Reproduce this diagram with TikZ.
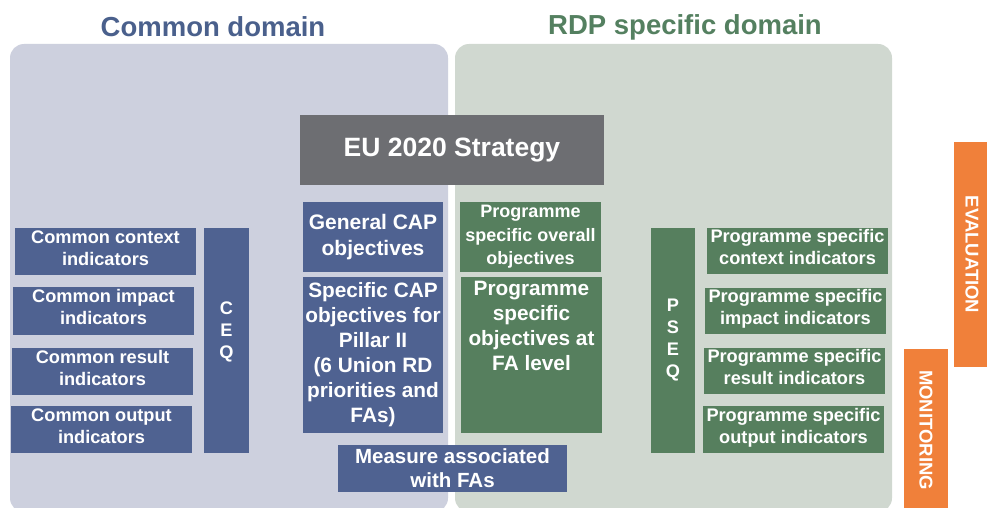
\documentclass[tikz,border=0pt]{standalone}
\usepackage{fontspec}
\setmainfont{Liberation Sans}
\usetikzlibrary{positioning}
\definecolor{cmnblue}{RGB}{79,98,145}
\definecolor{rdpgreen}{RGB}{86,127,94}
\definecolor{cmnpanel}{RGB}{205,208,222}
\definecolor{rdppanel}{RGB}{208,216,208}
\definecolor{eugray}{RGB}{109,110,114}
\definecolor{mevorange}{RGB}{240,128,58}
\definecolor{cmntitle}{RGB}{74,96,140}
\definecolor{rdptitle}{RGB}{84,128,96}
\tikzset{
  wtext/.style={inner sep=0pt, align=center, text=white,
    font=\bfseries\fontsize{18.2}{22}\selectfont},
  bluebox/.style={wtext, fill=cmnblue},
  greenbox/.style={wtext, fill=rdpgreen},
  indbox/.style={minimum width=181, minimum height=47, text depth=7.5pt},
  orangebox/.style={wtext, fill=mevorange, rotate=-90,
    font=\bfseries\fontsize{18.5}{22}\selectfont},
  bigtext/.style={font=\bfseries\fontsize{20.8}{25}\selectfont}
}
\begin{document}
\begin{tikzpicture}[x=1pt, y=-1pt]
  \useasboundingbox[fill=white] (0,0) rectangle (987,508);
  % the two domains
  \fill[cmnpanel, rounded corners=14] (10,44) rectangle (448,512);
  \fill[rdppanel, rounded corners=14] (455,44) rectangle (892,512);
  \node[text=cmntitle, font=\bfseries\fontsize{27.5}{32}\selectfont] (cmntitle) at (213,27) {Common domain};
  \node[text=rdptitle, font=\bfseries\fontsize{27.5}{32}\selectfont] (rdptitle) at (685,27) {RDP specific domain};
  % strategy on top
  \node[wtext, fill=eugray, minimum width=304, minimum height=70,
    font=\bfseries\fontsize{26.5}{30}\selectfont] (eu) at (452,150) {EU 2020 Strategy};
  % common indicators and CEQ
  \node[bluebox, indbox] (cctx) at (105.5,251.5) {Common context\\indicators};
  \node[bluebox, indbox, minimum height=48] (cimp) at (103.5,311) {Common impact\\indicators};
  \node[bluebox, indbox] (cres) at (102.5,371.5) {Common result\\indicators};
  \node[bluebox, indbox] (cout) at (101.5,429.5) {Common output\\indicators};
  \node[bluebox, minimum width=45, minimum height=225] (ceq) at (226.5,340.5) {};
  \node[wtext] (ceqtxt) at (226.5,332) {C\\E\\Q};
  % objectives
  \node[bluebox, minimum width=140, minimum height=70, font=\bfseries\fontsize{21}{26}\selectfont] (gencap) at (373,237) {General CAP\\objectives};
  \node[bluebox, bigtext, minimum width=140, minimum height=156] (speccap) at (373,355) {Specific CAP\\objectives for\\Pillar II\\(6 Union RD\\priorities and\\FAs)};
  \node[greenbox, minimum width=141, minimum height=70, font=\bfseries\fontsize{18}{23.5}\selectfont] (povr) at (530.5,237) {Programme\\specific overall\\objectives};
  \node[greenbox, minimum width=141, minimum height=156] (pfa) at (531.5,355) {};
  \node[wtext, bigtext, below=4pt of pfa.north] (pfatxt) {Programme\\specific\\objectives at\\FA level};
  \node[bluebox, minimum width=229, minimum height=47, font=\bfseries\fontsize{20.5}{24}\selectfont] (meas) at (452.5,468.5) {Measure associated\\with FAs};
  % programme specific indicators and PSEQ
  \node[greenbox, minimum width=44, minimum height=225] (pseq) at (673,340.5) {P\\S\\E\\Q};
  \node[greenbox, indbox, minimum height=46] (pctx) at (797.5,251) {Programme specific\\context indicators};
  \node[greenbox, indbox, minimum height=46] (pimp) at (795.5,311) {Programme specific\\impact indicators};
  \node[greenbox, indbox, minimum height=46] (pres) at (794.5,371) {Programme specific\\result indicators};
  \node[greenbox, indbox] (pout) at (793.5,429.5) {Programme specific\\output indicators};
  % evaluation and monitoring
  \node[orangebox, minimum width=225, minimum height=36] (eval) at (972,254.5) {EVALUATION};
  \node[orangebox, minimum width=162, minimum height=44] (mon) at (926,430) {MONITORING};
\end{tikzpicture}
\end{document}
